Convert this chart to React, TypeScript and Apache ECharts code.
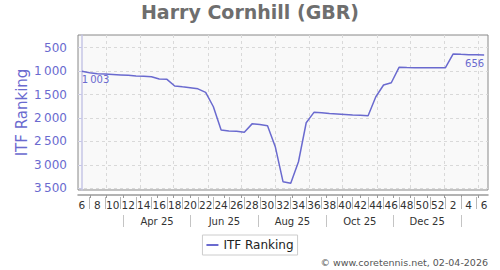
import React, { useEffect, useRef } from "react";
import * as echarts from "echarts";

// ISO week numbers of the weekly ranking points (week 6 of 2025 .. week 6 of 2026)
const weekNumbers = [
  6, 7, 8, 9, 10, 11, 12, 13, 14, 15, 16, 17, 18, 19, 20, 21, 22, 23, 24, 25, 26, 27, 28, 29, 30,
  31, 32, 33, 34, 35, 36, 37, 38, 39, 40, 41, 42, 43, 44, 45, 46, 47, 48, 49, 50, 51, 52,
  1, 2, 3, 4, 5, 6,
];
// ITF ranking, one value per week
const ranking = [
  1003, 1035, 1058, 1062, 1070, 1080, 1090, 1102, 1110, 1118,
  1168, 1175, 1317, 1335, 1352, 1378, 1452, 1760, 2256, 2275,
  2285, 2303, 2125, 2140, 2164, 2612, 3358, 3394, 2933, 2101,
  1879, 1890, 1905, 1915, 1925, 1935, 1942, 1951, 1546, 1296,
  1247, 918, 924, 927, 927, 927, 927, 927, 634, 642,
  648, 652, 656,
];
const rankTicks = [500, 1000, 1500, 2000, 2500, 3000, 3500];
const labeledMonths = ["Apr 25", "Jun 25", "Aug 25", "Oct 25", "Dec 25"];
const labeledMonthStarts: [number, number][] = [[2025, 3], [2025, 5], [2025, 7], [2025, 9], [2025, 11]];
const separatorMonthStarts: [number, number][] = [[2025, 2], [2025, 4], [2025, 6], [2025, 8], [2025, 10], [2026, 0]];
const gridMonthStarts: [number, number][] = [
  [2025, 2], [2025, 3], [2025, 4], [2025, 5], [2025, 6], [2025, 7],
  [2025, 8], [2025, 9], [2025, 10], [2025, 11], [2026, 0], [2026, 1],
];
const firstPointDate: [number, number, number] = [2025, 1, 7];
const seriesName = "ITF Ranking";
const titleText = "Harry Cornhill (GBR)";
const footerText = "\u00A9 www.coretennis.net, 02-04-2026";

const FONT = "DejaVu Sans";
const BLUE = "#6a6acf";

const startMs = Date.UTC(firstPointDate[0], firstPointDate[1], firstPointDate[2]);
const toIdx = (ms: number) => (ms - startMs) / (7 * 86400000);
const monthStartIdx = ([y, m]: [number, number]) => toIdx(Date.UTC(y, m, 1));
const monthCenterIdx = ([y, m]: [number, number]) =>
  (toIdx(Date.UTC(y, m, 1)) + toIdx(Date.UTC(y, m + 1, 1))) / 2;

const fmtThousands = (v: number) =>
  String(Math.round(v)).replace(/\B(?=(\d{3})+(?!\d))/g, "\u2009");

export default function App() {
  const ref = useRef<HTMLDivElement>(null);
  useEffect(() => {
    if (!ref.current) return;
    const chart = echarts.init(ref.current, null, { renderer: "svg" });
    const n = weekNumbers.length;
    const evenIdx = weekNumbers.map((_, i) => i).filter((i) => i % 2 === 0);
    const oddIdx = weekNumbers.map((_, i) => i).filter((i) => i % 2 === 1);
    const gridPos = gridMonthStarts.map(monthStartIdx);
    const midPos = gridMonthStarts.map(([y, m]) => monthCenterIdx([y, m - 1]));
    const smallTicks = [...gridPos, ...midPos].filter((v) => v > -0.5 && v < n - 0.5).sort((a, b) => a - b);
    const labelPos = labeledMonthStarts.map(monthCenterIdx);
    const sepPos = separatorMonthStarts.map(monthCenterIdx);
    const last = ranking.length - 1;

    const baseX = {
      type: "value" as const,
      gridIndex: 0,
      position: "bottom" as const,
      min: -0.5,
      max: n - 0.5,
      splitLine: { show: false },
    };

    chart.setOption({
      animation: false,
      backgroundColor: "#ffffff",
      textStyle: { fontFamily: FONT },
      title: [
        {
          text: titleText,
          left: "center",
          top: 2,
          padding: 0,
          textStyle: { fontFamily: FONT, fontSize: 19, fontWeight: "bold", color: "#6e6e6e" },
        },
        {
          text: footerText,
          right: 12,
          top: 257,
          padding: 0,
          textStyle: { fontFamily: FONT, fontSize: 9.5, fontWeight: "normal", color: "#555555" },
        },
      ],
      legend: {
        data: [seriesName],
        left: "center",
        top: 235,
        icon: "rect",
        itemWidth: 12,
        itemHeight: 2,
        borderColor: "#cccccc",
        borderWidth: 1,
        padding: [4, 4],
        textStyle: { fontFamily: FONT, fontSize: 12, color: "#222222" },
      },
      grid: {
        left: 78,
        right: 12,
        top: 35,
        bottom: 80,
        show: true,
        backgroundColor: "#f9f9f9",
        borderColor: "#888888",
        borderWidth: 1,
        containLabel: false,
        outerBoundsMode: "none",
      },
      xAxis: [
        {
          ...baseX,
          axisLine: { show: false },
          axisTick: { show: false, customValues: gridPos },
          axisLabel: { show: false },
          splitLine: { show: true, lineStyle: { color: "#d9d9d9", type: [3, 3], width: 1 } },
        },
        {
          ...baseX,
          offset: 5,
          axisLine: { show: true, lineStyle: { color: "#9a9a9a", width: 1.5 } },
          axisTick: { show: true, length: 3, customValues: smallTicks, lineStyle: { color: "#9a9a9a" } },
          axisLabel: {
            customValues: evenIdx,
            formatter: (v: number) => String(weekNumbers[Math.round(v)]),
            fontFamily: FONT,
            fontSize: 10.5,
            color: "#333333",
            margin: 4,
          },
        },
        {
          ...baseX,
          offset: 7,
          axisLine: { show: false },
          axisTick: { show: true, length: 12, customValues: oddIdx, lineStyle: { color: "#b8b8b8" } },
          axisLabel: { show: false },
        },
        {
          ...baseX,
          offset: 25,
          axisLine: { show: false },
          axisTick: { show: true, length: 12, customValues: sepPos, lineStyle: { color: "#c4c4c4" } },
          axisLabel: {
            customValues: labelPos,
            formatter: (v: number) => {
              let best = 0;
              labelPos.forEach((p, k) => {
                if (Math.abs(p - v) < Math.abs(labelPos[best] - v)) best = k;
              });
              return labeledMonths[best];
            },
            fontFamily: FONT,
            fontSize: 10,
            color: "#333333",
            margin: 1,
          },
        },
      ],
      yAxis: {
        type: "value",
        inverse: true,
        min: 229,
        max: 3536,
        offset: 5,
        name: seriesName,
        nameLocation: "middle",
        nameGap: 44,
        nameMoveOverlap: false,
        nameTextStyle: { fontFamily: FONT, fontSize: 15, color: BLUE },
        axisLine: { show: true, lineStyle: { color: "#c6c6e6", width: 1.5 } },
        axisTick: { show: true, length: 3, customValues: rankTicks, lineStyle: { color: "#c6c6e6" } },
        axisLabel: {
          customValues: rankTicks,
          formatter: (v: number) => fmtThousands(v),
          fontFamily: FONT,
          fontSize: 12,
          color: BLUE,
          margin: 6,
        },
        splitLine: { show: true, lineStyle: { color: "#d9d9d9", type: [3, 3], width: 1 } },
      },
      series: [
        {
          type: "line",
          name: seriesName,
          xAxisIndex: 0,
          yAxisIndex: 0,
          showSymbol: true,
          symbol: "circle",
          symbolSize: 0,
          color: BLUE,
          lineStyle: { color: BLUE, width: 1.5 },
          itemStyle: { color: BLUE },
          label: { show: false },
          data: ranking.map((v, i) => {
            if (i === 0 || i === last) {
              return {
                value: [i, v],
                label: {
                  show: true,
                  position: [0, 3],
                  align: i === 0 ? "left" : "right",
                  verticalAlign: "top",
                  formatter: () => fmtThousands(v),
                  fontFamily: FONT,
                  fontSize: 10,
                  color: BLUE,
                },
              };
            }
            return { value: [i, v] };
          }),
        },
      ],
    });
    return () => chart.dispose();
  }, []);
  return (
    <div
      ref={ref}
      style={{ position: "fixed", left: 0, top: 0, width: 500, height: 270 }}
    />
  );
}
